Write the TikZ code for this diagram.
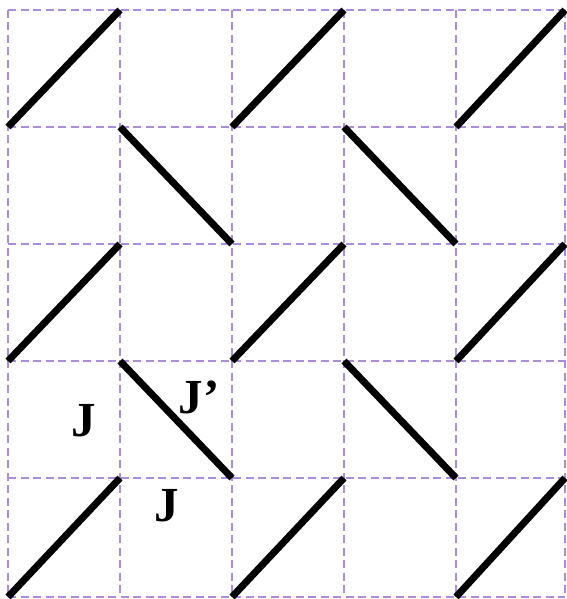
\documentclass[tikz,border=0pt]{standalone}
\usepackage{fontspec}
\setmainfont{Liberation Serif}
\definecolor{gridpurple}{RGB}{172,140,222}
\begin{document}
\begin{tikzpicture}[x=1pt,y=-1pt,
  gridline/.style={draw=gridpurple,line width=1.6pt,dash pattern=on 8pt off 4.5pt},
  bond/.style={draw=black,line width=7pt},
  lbl/.style={font=\fontsize{49}{49}\selectfont\bfseries,inner sep=0pt}]
\useasboundingbox (0,0) rectangle (566,599);
% grid coordinates
\foreach \x [count=\i from 0] in {8,120,232,344,456,565}{
  \foreach \y [count=\j from 0] in {10,127,244,361,478,597}{
    \coordinate (p-\i-\j) at (\x,\y);
  }
}
% dashed grid
\foreach \i in {0,...,5}{
  \draw[gridline] (p-\i-0) -- (p-\i-5);
  \draw[gridline] (p-0-\i) -- (p-5-\i);
}
% rising bonds in rows 0,2,4, columns 0,2,4
\foreach \r in {0,2,4}{
  \foreach \c in {0,2,4}{
    \pgfmathtruncatemacro{\cn}{\c+1}
    \pgfmathtruncatemacro{\rn}{\r+1}
    \draw[bond] (p-\c-\rn) -- (p-\cn-\r);
  }
}
% falling bonds in rows 1,3, columns 1,3
\foreach \r in {1,3}{
  \foreach \c in {1,3}{
    \pgfmathtruncatemacro{\cn}{\c+1}
    \pgfmathtruncatemacro{\rn}{\r+1}
    \draw[bond] (p-\c-\r) -- (p-\cn-\rn);
  }
}
% labels
\node[lbl] (j1) at (84,421) {J};
\node[lbl] (j2) at (199,397) {J’};
\node[lbl] (j3) at (167,506) {J};
\end{tikzpicture}
\end{document}
